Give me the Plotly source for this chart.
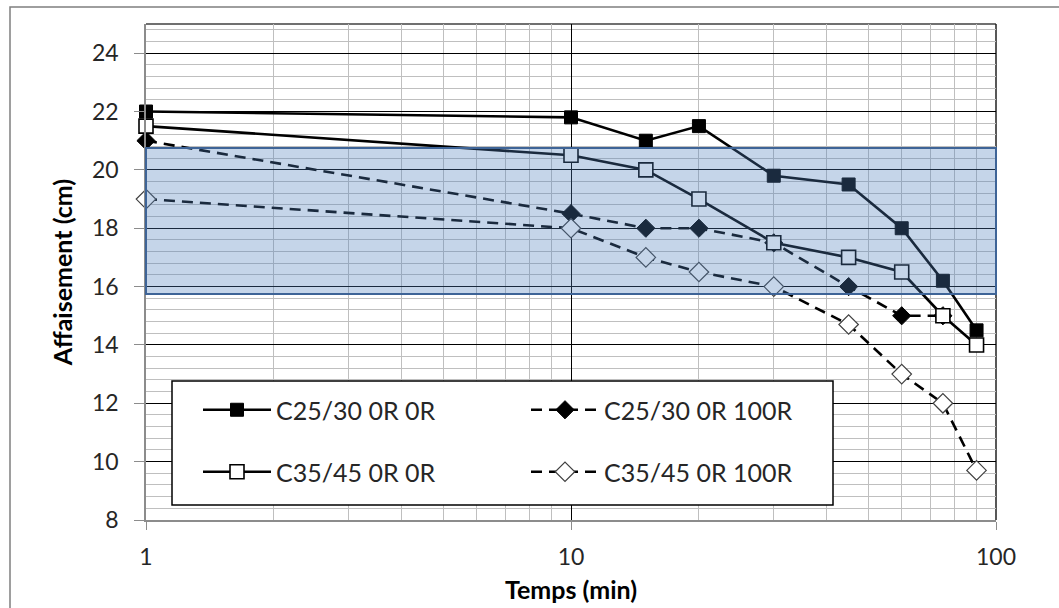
import plotly.graph_objects as go

# ---- data ----
temps = [1, 10, 15, 20, 30, 45, 60, 75, 90]
temps_c25_100 = [1, 10, 15, 20, 30, 45, 60, 75]
c25_0r_0r = [22.0, 21.8, 21.0, 21.5, 19.8, 19.5, 18.0, 16.2, 14.5]
c25_0r_100r = [21.0, 18.5, 18.0, 18.0, 17.5, 16.0, 15.0, 15.0]
c35_0r_0r = [21.5, 20.5, 20.0, 19.0, 17.5, 17.0, 16.5, 15.0, 14.0]
c35_0r_100r = [19.0, 18.0, 17.0, 16.5, 16.0, 14.7, 13.0, 12.0, 9.7]
band_low, band_high = 15.75, 20.75
y_ticks = [8, 10, 12, 14, 16, 18, 20, 22, 24]
x_ticks = [1, 10, 100]

FONT = "Lato"
fig = go.Figure()

fig.add_trace(go.Scatter(
    x=temps, y=c25_0r_0r, name="C25/30 0R 0R", mode="lines+markers",
    line=dict(color="black", width=2.6), cliponaxis=False, showlegend=True,
    marker=dict(symbol="square", size=13, color="black", line=dict(color="black", width=1)),
    legend="legend"))
fig.add_trace(go.Scatter(
    x=temps_c25_100, y=c25_0r_100r, name="C25/30 0R 100R", mode="lines+markers",
    line=dict(color="black", width=2.6, dash="11px,7px"), cliponaxis=False, showlegend=True,
    marker=dict(symbol="diamond", size=14, color="black", line=dict(color="black", width=1)),
    legend="legend2"))
fig.add_trace(go.Scatter(
    x=temps, y=c35_0r_0r, name="C35/45 0R 0R", mode="lines+markers",
    line=dict(color="black", width=2.6), cliponaxis=False, showlegend=True,
    marker=dict(symbol="square", size=14, color="white", line=dict(color="black", width=1.6)),
    legend="legend3"))
fig.add_trace(go.Scatter(
    x=temps, y=c35_0r_100r, name="C35/45 0R 100R", mode="lines+markers",
    line=dict(color="black", width=2.6, dash="11px,7px"), cliponaxis=False, showlegend=True,
    marker=dict(symbol="diamond", size=15, color="white", line=dict(color="#404040", width=1.2)),
    legend="legend4"))

# plot area: left 146, right 996, top 24, bottom 520
W, H = 1059, 608
L, R, T, B = 146, 63, 24, 88
pw, ph = W - L - R, H - T - B

def px(xp):
    return (xp - L) / pw

def py(yp):
    return (H - B - yp) / ph

shapes = [
    # shaded band
    dict(type="rect", xref="x domain", yref="y", x0=0, x1=1, y0=band_low, y1=band_high,
         fillcolor="rgba(79,129,189,0.33)", line=dict(color="#3E6497", width=2), layer="above"),
    # top and right plot border
    dict(type="line", xref="paper", yref="paper", x0=0, x1=1, y0=1, y1=1,
         line=dict(color="#404040", width=1.5), layer="below"),
    dict(type="line", xref="paper", yref="paper", x0=1, x1=1, y0=0, y1=1,
         line=dict(color="#202020", width=1.5), layer="below"),
    # outer chart border
    dict(type="rect", xref="paper", yref="paper", x0=px(10), x1=px(1070), y0=py(620), y1=py(7),
         line=dict(color="#7F7F7F", width=1.5), fillcolor="rgba(0,0,0,0)", layer="below"),
    # legend box
    dict(type="rect", xref="paper", yref="paper", x0=px(172), x1=px(833), y0=py(505), y1=py(381),
         line=dict(color="black", width=1.5), fillcolor="white", layer="above"),
]

leg_common = dict(bgcolor="rgba(0,0,0,0)", borderwidth=0, xanchor="left", yanchor="middle",
                  font=dict(family=FONT, size=25, color="#262626"), itemwidth=68)

fig.update_layout(
    width=W, height=H,
    margin=dict(l=L, r=R, t=T, b=B),
    paper_bgcolor="white", plot_bgcolor="white",
    font=dict(family=FONT, color="#262626"),
    showlegend=True,
    shapes=shapes,
    legend=dict(x=px(198), y=py(410), **leg_common),
    legend2=dict(x=px(526), y=py(410), **leg_common),
    legend3=dict(x=px(198), y=py(472), **leg_common),
    legend4=dict(x=px(526), y=py(472), **leg_common),
    xaxis=dict(
        type="log", range=[0, 2], tickmode="array", tickvals=x_ticks,
        ticktext=[str(v) for v in x_ticks], automargin=False,
        showgrid=True, gridcolor="black", gridwidth=1.3,
        minor=dict(showgrid=True, gridcolor="#BFBFBF", gridwidth=1.3, dtick="D1", ticks=""),
        showline=True, linecolor="#8C8C8C", linewidth=1.5,
        ticks="outside", ticklen=8, tickcolor="#8C8C8C", tickwidth=1.3,
        ticklabelstandoff=8,
        tickfont=dict(family=FONT, size=23, color="#262626"),
        title=dict(text="<b>Temps (min)</b>", font=dict(family=FONT, size=25, color="black"), standoff=12),
        zeroline=False,
    ),
    yaxis=dict(
        range=[8, 25], tickmode="array", tickvals=y_ticks, automargin=False,
        showgrid=True, gridcolor="black", gridwidth=1.3,
        minor=dict(showgrid=True, gridcolor="#BFBFBF", gridwidth=1.3, dtick=0.4, tick0=8, ticks=""),
        showline=True, linecolor="#8C8C8C", linewidth=1.5,
        ticks="outside", ticklen=10, tickcolor="#8C8C8C", tickwidth=1.3,
        ticklabelstandoff=11,
        tickfont=dict(family=FONT, size=23, color="#262626"),
        title=dict(text="<b>Affaisement (cm)</b>", font=dict(family=FONT, size=25, color="black"), standoff=12),
        zeroline=False,
    ),
)

fig.write_html("out.html", config={"displayModeBar": False},
               post_script="document.body.style.margin='0';")
